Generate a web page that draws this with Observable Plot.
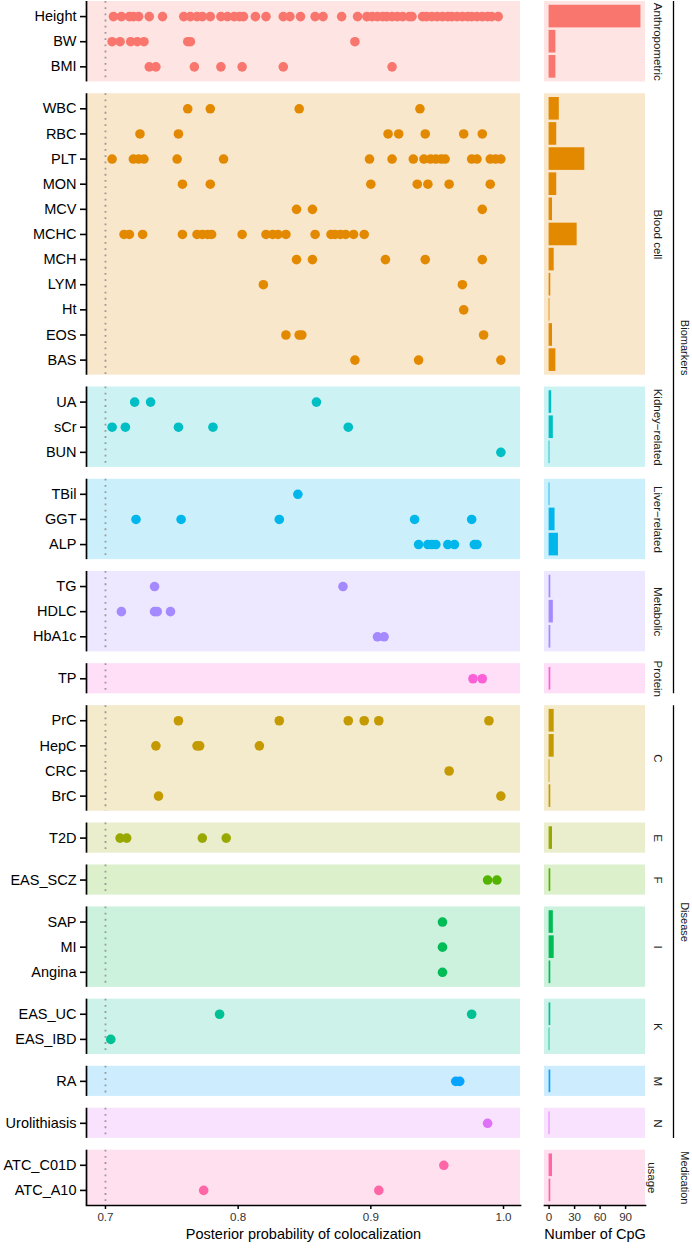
<!DOCTYPE html>
<html>
<head>
<meta charset="utf-8">
<script src="https://cdn.jsdelivr.net/npm/d3@7"></script>
<script src="https://cdn.jsdelivr.net/npm/@observablehq/plot@0.6"></script>
<style>
  body { margin: 0; background: #fff; font-family: "Liberation Sans", Arial, Helvetica, sans-serif; }
  #wrap { position: relative; width: 692px; height: 1248px; overflow: hidden; }
  #left { position: absolute; left: 0; top: 0; }
  #right { position: absolute; left: 520px; top: 0; }
  svg { overflow: visible; }
</style>
</head>
<body>
<div id="wrap"><div id="left"></div><div id="right"></div></div>
<script>
// ---------- DATA ----------
const groupNames = ["Anthropometric", "Blood cell", "Kidney\u2212related", "Liver\u2212related", "Metabolic", "Protein",
  "C", "E", "F", "I", "K", "M", "N", "usage"];
const groupColors = ["#F8766D", "#E38900", "#00BFC4", "#00B6EB", "#A58AFF", "#FB61D7",
  "#C49A00", "#99A800", "#53B400", "#00BC56", "#00C094", "#06A4FF", "#DF70F8", "#FF66A8"];
const outerNames = ["Biomarkers", "Disease", "Medication"];
const outerOfGroup = [0, 0, 0, 0, 0, 0, 1, 1, 1, 1, 1, 1, 1, 2];

const ppAnthropometric = [
  ["Height", [0.706, 0.712, 0.718, 0.721, 0.725, 0.733, 0.743, 0.759, 0.764, 0.769, 0.773, 0.779, 0.787, 0.792,
    0.797, 0.801, 0.804, 0.813, 0.821, 0.834, 0.839, 0.847, 0.858, 0.864, 0.878, 0.890, 0.897, 0.901, 0.905,
    0.909, 0.912, 0.916, 0.920, 0.924, 0.929, 0.931, 0.939, 0.942, 0.946, 0.950, 0.954, 0.958, 0.961, 0.965,
    0.969, 0.973, 0.976, 0.980, 0.984, 0.988, 0.991, 0.996]],
  ["BW", [0.705, 0.711, 0.719, 0.724, 0.729, 0.762, 0.764, 0.888]],
  ["BMI", [0.733, 0.738, 0.767, 0.787, 0.803, 0.834, 0.916]]
];
const ppBloodCell = [
  ["WBC", [0.762, 0.779, 0.846, 0.937]],
  ["RBC", [0.726, 0.755, 0.913, 0.921, 0.941, 0.970, 0.984]],
  ["PLT", [0.705, 0.721, 0.725, 0.729, 0.754, 0.789, 0.899, 0.916, 0.932, 0.940, 0.945, 0.949, 0.953, 0.956,
    0.976, 0.980, 0.990, 0.994, 0.998]],
  ["MON", [0.758, 0.779, 0.900, 0.935, 0.943, 0.959, 0.990]],
  ["MCV", [0.844, 0.856, 0.984]],
  ["MCHC", [0.714, 0.718, 0.728, 0.758, 0.769, 0.773, 0.777, 0.780, 0.803, 0.821, 0.826, 0.830, 0.836, 0.858,
    0.870, 0.873, 0.877, 0.881, 0.887, 0.895]],
  ["MCH", [0.844, 0.856, 0.911, 0.941, 0.984]],
  ["LYM", [0.819, 0.969]],
  ["Ht", [0.970]],
  ["EOS", [0.836, 0.846, 0.848, 0.985]],
  ["BAS", [0.888, 0.936, 0.998]]
];
const ppKidney = [
  ["UA", [0.722, 0.734, 0.859]],
  ["sCr", [0.705, 0.715, 0.755, 0.781, 0.883]],
  ["BUN", [0.998]]
];
const ppLiver = [
  ["TBil", [0.845]],
  ["GGT", [0.723, 0.757, 0.831, 0.933, 0.976]],
  ["ALP", [0.936, 0.943, 0.946, 0.949, 0.958, 0.963, 0.978, 0.980]]
];
const ppMetabolic = [
  ["TG", [0.737, 0.879]],
  ["HDLC", [0.712, 0.737, 0.739, 0.749]],
  ["HbA1c", [0.905, 0.910]]
];
const ppProtein = [["TP", [0.977, 0.984]]];
const ppC = [
  ["PrC", [0.755, 0.831, 0.883, 0.895, 0.906, 0.989]],
  ["HepC", [0.738, 0.769, 0.771, 0.816]],
  ["CRC", [0.959]],
  ["BrC", [0.740, 0.998]]
];
const ppE = [["T2D", [0.711, 0.716, 0.773, 0.791]]];
const ppF = [["EAS_SCZ", [0.988, 0.995]]];
const ppI = [["SAP", [0.954]], ["MI", [0.954]], ["Angina", [0.954]]];
const ppK = [["EAS_UC", [0.786, 0.976]], ["EAS_IBD", [0.704]]];
const ppM = [["RA", [0.964, 0.967]]];
const ppN = [["Urolithiasis", [0.988]]];
const ppUsage = [["ATC_C01D", [0.955]], ["ATC_A10", [0.774, 0.906]]];

// Number of CpG per trait, in the same order as the traits above
const cpgCounts = [108, 8, 8,
  12, 9, 42, 9, 4, 33, 6, 2, 1, 4, 8,
  3, 5, 1,
  1, 7, 11,
  2, 5, 2,
  2,
  6, 6, 1, 2,
  4,
  2,
  5, 6, 2,
  2, 1,
  2,
  1,
  4, 2];

const xTicksPP = [0.7, 0.8, 0.9, 1.0];
const xTicksCpG = [0, 30, 60, 90];

// ---------- LAYOUT (row units) ----------
const groupData = [ppAnthropometric, ppBloodCell, ppKidney, ppLiver, ppMetabolic, ppProtein,
  ppC, ppE, ppF, ppI, ppK, ppM, ppN, ppUsage];
const GAP = 0.47, PAD = 0.6;
let cum = 0, idx = 0;
const panels = [], rows = [];
groupData.forEach((g, gi) => {
  const top = cum;
  g.forEach(([trait, vals], r) => {
    rows.push({trait, vals, pos: top + PAD + r, color: groupColors[gi], cpg: cpgCounts[idx++]});
  });
  const bottom = top + g.length + 2 * PAD - 1;
  panels.push({name: groupNames[gi], top, bottom, mid: (top + bottom) / 2, color: groupColors[gi], outer: outerOfGroup[gi]});
  cum = bottom + GAP;
});
const total = cum - GAP;
const points = rows.flatMap(r => r.vals.map(v => ({pp: v, pos: r.pos, color: r.color})));
const nameByPos = new Map(rows.map(r => [r.pos, r.trait]));
const outers = outerNames.map((name, oi) => {
  const ps = panels.filter(p => p.outer === oi);
  const top = d3.min(ps, p => p.top), bottom = d3.max(ps, p => p.bottom);
  return {name, top, bottom, mid: (top + bottom) / 2, line: ps.length > 1};
});

const FONT = '"Liberation Sans", Arial, Helvetica, sans-serif';
const H = 1248, MT = 1, MB = 43;
const yScale = {domain: [0, total], reverse: true, axis: null};

// ---------- LEFT: dots ----------
const X0 = 0.6857, X1 = 1.0128;
const left = Plot.plot({
  width: 530, height: H, marginLeft: 86, marginRight: 10, marginTop: MT, marginBottom: MB,
  x: {domain: [X0, X1]},
  y: yScale,
  color: {type: "identity"},
  style: {fontFamily: FONT, color: "black", background: "transparent", overflow: "visible"},
  marks: [
    Plot.rect(panels, {x1: X0, x2: X1, y1: "top", y2: "bottom", fill: "color", fillOpacity: 0.2}),
    Plot.ruleX(panels, {x: 0.7, y1: "top", y2: "bottom", stroke: "#9a9a9a", strokeWidth: 1.8, strokeDasharray: "1.8,4.4"}),
    Plot.dot(points, {x: "pp", y: "pos", fill: "color", r: 4.8}),
    Plot.ruleX(panels, {x: X0, y1: "top", y2: "bottom", stroke: "black", strokeWidth: 1.7}),
    Plot.axisY(rows.map(d => d.pos), {tickFormat: p => nameByPos.get(p), tickSize: 6, tickPadding: 4,
      fontSize: 14.5, strokeWidth: 1.6, stroke: "black", fill: "black", label: null}),
    Plot.axisX(xTicksPP, {tickFormat: d3.format(".1f"), tickSize: 4, tickPadding: 3, fontSize: 11.6,
      strokeWidth: 1.5, stroke: "black", fill: "#333", label: null}),
    Plot.frame({anchor: "bottom", stroke: "black", strokeWidth: 1.7}),
    Plot.text(["Posterior probability of colocalization"], {frameAnchor: "bottom", dy: 33, fontSize: 14.5, fill: "black"})
  ]
});
document.getElementById("left").appendChild(left);

// ---------- RIGHT: bars ----------
const B0 = -5.4, B1 = 113.4;
const right = Plot.plot({
  width: 172, height: H, marginLeft: 24, marginRight: 47, marginTop: MT, marginBottom: MB,
  x: {domain: [B0, B1]},
  y: yScale,
  color: {type: "identity"},
  style: {fontFamily: FONT, color: "black", background: "transparent", overflow: "visible"},
  marks: [
    Plot.rect(panels, {x1: B0, x2: B1, y1: "top", y2: "bottom", fill: "color", fillOpacity: 0.2}),
    Plot.rect(rows, {x1: 0, x2: "cpg", y1: d => d.pos - 0.45, y2: d => d.pos + 0.45, fill: "color"}),
    Plot.axisX(xTicksCpG, {tickSize: 4, tickPadding: 3, fontSize: 11.6, strokeWidth: 1.5, stroke: "black", fill: "#333", label: null}),
    Plot.frame({anchor: "bottom", stroke: "black", strokeWidth: 1.7}),
    Plot.text(["Number of CpG"], {frameAnchor: "bottom", dy: 33, fontSize: 14.5, fill: "black"}),
    Plot.text(panels.filter(p => p.outer !== 2), {x: B1, y: "mid", text: "name", rotate: 90, dx: 12, fontSize: 11.5, fill: "#1a1a1a"}),
    Plot.text(panels.filter(p => p.outer === 2), {x: B1, y: "mid", text: "name", rotate: 90, dx: 6, fontSize: 11.5, fill: "#1a1a1a"}),
    Plot.ruleX(outers.filter(o => o.line), {x: B1, dx: 28, y1: "top", y2: "bottom", stroke: "black", strokeWidth: 1.3}),
    Plot.text(outers, {x: B1, y: "mid", text: "name", rotate: 90, dx: 39, fontSize: 11, fill: "#1a1a1a"})
  ]
});
document.getElementById("right").appendChild(right);
</script>
</body>
</html>
